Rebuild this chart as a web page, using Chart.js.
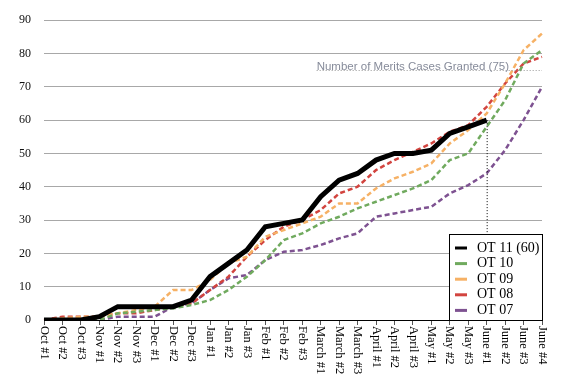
<!DOCTYPE html>
<html>
<head>
<meta charset="utf-8">
<script src="https://cdn.jsdelivr.net/npm/chart.js@4.4.1/dist/chart.umd.min.js"></script>
<style>
  html, body { margin: 0; padding: 0; background: #fff; }
  #wrap { width: 580px; height: 389px; position: relative; }
</style>
</head>
<body>
<div id="wrap"><canvas id="meritsChart" width="580" height="389"></canvas></div>
<script>
// weekly buckets, Oct #1 .. June #4
const weeks = ['Oct #1','Oct #2','Oct #3','Nov #1','Nov #2','Nov #3','Dec #1','Dec #2','Dec #3',
  'Jan #1','Jan #2','Jan #3','Feb #1','Feb #2','Feb #3','March #1','March #2','March #3',
  'April #1','April #2','April #3','May #1','May #2','May #3','June #1','June #2','June #3','June #4'];

// cumulative merits cases granted per term
const ot11 = [0,0,0,1,4,4,4,4,6,13,17,21,28,29,30,37,42,44,48,50,50,51,56,58,60,null,null,null];
const ot10 = [0,0,0,0,2,2.5,3,3.5,4.5,6,9,13,18,24,26,29,31,33.5,35.5,37.5,39.5,42,48,50,58,66,77,81];
const ot09 = [0,0.5,1,1,2,3,4,9,9,12,17,19,25,27,29,31,35,35,39.5,42.5,44.5,47,53,57,62,71,81,86];
const ot08 = [0,1,1,1,2,2,3,4,5,9,13,19,24,28,30,33,38,40,45,48,50.5,53,56.5,58.5,64,71,77,79];
const ot07 = [0,0,0,0,1,1,1,4,5,9,12.5,13.5,18,20.5,21,22.5,24.5,26,31,32,33,34,38,40.5,44,51,60,70];

const yTicks = [0,10,20,30,40,50,60,70,80,90];

const grantedTarget = 75;
const grantedLabel = 'Number of Merits Cases Granted (75)';
const grantedFrom = 'March #1';
const currentWeek = 'June #1';

function dashed(label, data, color){
    return { label: label, data: data, borderColor: color, backgroundColor: color,
             borderWidth: 2.5, borderDash: [5,3], pointRadius: 0, tension: 0, fill: false };
}

// vertical marker, target line, and boxed legend drawn on top of the plot
const overlays = {
    id: 'overlays',
    afterDatasetsDraw(chart){
        const {ctx, chartArea, scales} = chart;
        const x = scales.x, y = scales.y;
        ctx.save();

        // dotted drop line from current total
        const ci = weeks.indexOf(currentWeek);
        const cx = x.getPixelForValue(ci);
        ctx.strokeStyle = '#000';
        ctx.lineWidth = 1;
        ctx.setLineDash([1,2]);
        ctx.beginPath();
        ctx.moveTo(cx + 0.5, y.getPixelForValue(ot11[ci]));
        ctx.lineTo(cx + 0.5, chartArea.bottom);
        ctx.stroke();

        // target line with label
        const ty = Math.round(y.getPixelForValue(grantedTarget)) + 0.5;
        const tx = x.getPixelForValue(weeks.indexOf(grantedFrom)) - 4;
        ctx.strokeStyle = '#999';
        ctx.beginPath();
        ctx.moveTo(tx, ty);
        ctx.lineTo(chartArea.right, ty);
        ctx.stroke();
        ctx.setLineDash([]);
        ctx.fillStyle = '#868b9a';
        ctx.font = '11.5px "Liberation Sans", Arial, sans-serif';
        ctx.textAlign = 'left';
        ctx.textBaseline = 'alphabetic';
        ctx.fillText(grantedLabel, tx, ty - 1);

        // x labels, rotated clockwise
        ctx.fillStyle = '#000';
        ctx.font = '12.5px "Liberation Serif", "Times New Roman", serif';
        ctx.textBaseline = 'middle';
        weeks.forEach(function(w, i){
            ctx.save();
            ctx.translate(x.getPixelForValue(i), chartArea.bottom + 6);
            ctx.rotate(Math.PI / 2);
            ctx.fillText(w, 0, 0);
            ctx.restore();
        });

        // legend box
        const bw = 93, bh = 86;
        const bx = chartArea.right - bw, by = chartArea.bottom - bh;
        ctx.fillStyle = '#fff';
        ctx.fillRect(bx, by, bw, bh);
        ctx.strokeStyle = '#000';
        ctx.lineWidth = 1;
        ctx.strokeRect(bx + 0.5, by + 0.5, bw, bh);
        ctx.font = '14px "Liberation Serif", "Times New Roman", serif';
        chart.data.datasets.forEach(function(ds, i){
            const ly = by + 14 + i * 15.6;
            ctx.strokeStyle = ds.borderColor;
            ctx.lineWidth = 3;
            ctx.beginPath();
            ctx.moveTo(bx + 6, ly);
            ctx.lineTo(bx + 18, ly);
            ctx.stroke();
            ctx.fillStyle = '#000';
            ctx.fillText(ds.label, bx + 28, ly);
        });
        ctx.restore();
    }
};

document.addEventListener('DOMContentLoaded', function(){
    const ctx = document.getElementById('meritsChart');
    if (!ctx || typeof Chart === 'undefined') return;
    try{
        new Chart(ctx, {
            type: 'line',
            data: {
                labels: weeks,
                datasets: [
                    { label: 'OT 11 (60)', data: ot11, borderColor: '#000', backgroundColor: '#000',
                      borderWidth: 5, pointRadius: 0, tension: 0, fill: false, spanGaps: false,
                      borderJoinStyle: 'miter' },
                    dashed('OT 10', ot10, '#70aa5e'),
                    dashed('OT 09', ot09, '#f6b165'),
                    dashed('OT 08', ot08, '#d2443f'),
                    dashed('OT 07', ot07, '#7e5291')
                ]
            },
            options: {
                responsive: false,
                animation: false,
                layout: { padding: { top: 16, right: 38, bottom: 0, left: 0 } },
                plugins: { legend: { display: false }, tooltip: { enabled: false } },
                scales: {
                    x: {
                        offset: false,
                        grid: { drawOnChartArea: false, drawTicks: true, tickLength: 5, color: '#555' },
                        border: { display: true, color: '#000', width: 1 },
                        ticks: { display: false },
                        afterFit: function(s){ s.height = 69; }
                    },
                    y: {
                        min: 0, max: 90,
                        afterBuildTicks: function(s){ s.ticks = yTicks.map(function(v){ return { value: v }; }); },
                        grid: { color: '#a8a8a8', drawTicks: false },
                        border: { display: false },
                        ticks: { padding: 13, color: '#111',
                                 font: { family: '"Liberation Serif", "Times New Roman", serif', size: 12 } },
                        afterFit: function(s){ s.width = 44; }
                    }
                }
            },
            plugins: [overlays]
        });
    }catch(e){ console.error('Chart init error', e); }
});
</script>
</body>
</html>
